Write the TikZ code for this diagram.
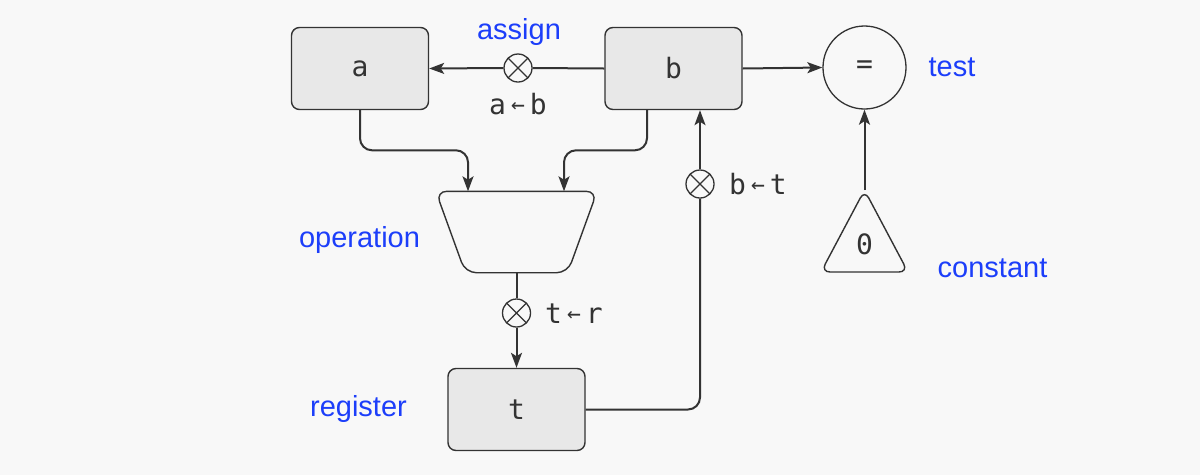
\documentclass[tikz,border=0pt]{standalone}
\usepackage{fontspec}
\setmainfont{Liberation Sans}
\newfontfamily\monofont{DejaVu Sans Mono}
\usetikzlibrary{arrows.meta,calc}
\definecolor{bgc}{HTML}{F8F8F8}
\definecolor{boxfill}{HTML}{E8E8E8}
\definecolor{ink}{HTML}{333333}
\definecolor{lblue}{RGB}{28,62,250}
\newcommand\mylarr{\kern5pt\raisebox{1.5pt}{\fontsize{23}{23}\selectfont ←}\kern5pt}
\tikzset{
  regbox/.style={draw=ink, fill=boxfill, line width=1.4pt, rounded corners=8pt,
    minimum width=137pt, minimum height=82pt, inner sep=0pt,
    font=\monofont\fontsize{28}{28}\selectfont, text=ink},
  xnode/.style={circle, draw=ink, fill=bgc, line width=1.3pt, minimum size=28pt, inner sep=0pt,
    path picture={\draw[ink, line width=1.3pt] (path picture bounding box.north west)--(path picture bounding box.south east)
      (path picture bounding box.north east)--(path picture bounding box.south west);}},
  conn/.style={draw=ink, line width=2pt, rounded corners=12pt},
  arr/.style={conn, -{Stealth[length=15pt,width=11pt,inset=3.5pt]}},
  bluelbl/.style={text=lblue, font=\fontsize{29}{29}\selectfont, anchor=base, inner sep=0pt},
  monolbl/.style={text=ink, font=\monofont\fontsize{28}{28}\selectfont, anchor=base, inner sep=0pt},
}
\begin{document}
\begin{tikzpicture}[x=1pt,y=-1pt]
\fill[bgc] (0,0) rectangle (1200,475);
\useasboundingbox (0,0) rectangle (1200,475);

% registers
\node[regbox] (a) at (360,68.5) {a};
\node[regbox] (b) at (673.5,68.5) {b};
\node[regbox] (t) at (516.5,409.5) {t};

% operation (trapezoid)
\node[minimum width=161pt, minimum height=81pt, inner sep=0pt,
      font=\monofont\fontsize{28}{28}\selectfont, text=ink] (rem) at (516.5,232) {rem};
\draw[ink, fill=bgc, line width=1.4pt, rounded corners=11pt]
  (rem.north west) -- (rem.north east) -- ([xshift=-29.5pt]rem.south east)
  -- ([xshift=29.5pt]rem.south west) -- cycle;

% test
\node[circle, draw=ink, line width=1.3pt, minimum size=83pt, inner sep=0pt,
      font=\monofont\fontsize{28}{28}\selectfont, text=ink] (eq) at (864.5,67.5) {=};

% constant
\coordinate (apex) at (864.5,190);
\coordinate (bl) at (821,272);
\coordinate (br) at (908,272);
\draw[ink, line width=1.4pt, rounded corners=9pt] (apex) -- (br) -- (bl) -- cycle;
\node[font=\monofont\fontsize{28}{28}\selectfont, text=ink, inner sep=0pt] (zero) at (864.5,244) {0};

% connectors
\node[xnode] (xab) at (518,68) {};
\node[xnode] (xbt) at (700,184) {};
\node[xnode] (xtr) at (516.5,313) {};

\draw[conn] (b.west) -- (xab.east);
\draw[arr] (xab.west) -- (a.east);

\draw[arr] (a.south) |- ([xshift=-48.5pt,yshift=41pt]rem.north) -- ([xshift=-48.5pt]rem.north);
\draw[arr] ([xshift=-26.5pt]b.south) |- ([xshift=47.5pt,yshift=41pt]rem.north) -- ([xshift=47.5pt]rem.north);

\draw[conn] (rem.south) -- (xtr.north);
\draw[arr] (xtr.south) -- (t.north);

\draw[conn] (t.east) -| (xbt.south);
\draw[arr] (xbt.north) -- ([xshift=26.5pt]b.south);

\draw[arr] (b.east) -- (eq.west);
\draw[arr] (apex) -- (eq.south);

% labels
\node[bluelbl] (lassign) at (519,39) {assign};
\node[bluelbl] (ltest) at (952,76) {test};
\node[bluelbl] (lop) at (359.5,247) {operation};
\node[bluelbl] (lconst) at (992.5,277) {constant};
\node[bluelbl] (lreg) at (358.5,416) {register};

\node[monolbl] (lab) at (518,114) {a\mylarr b};
\node[monolbl, anchor=base west] (lbt) at (729,194) {b\mylarr t};
\node[monolbl, anchor=base west] (ltr) at (545,323) {t\mylarr r};
\end{tikzpicture}
\end{document}
